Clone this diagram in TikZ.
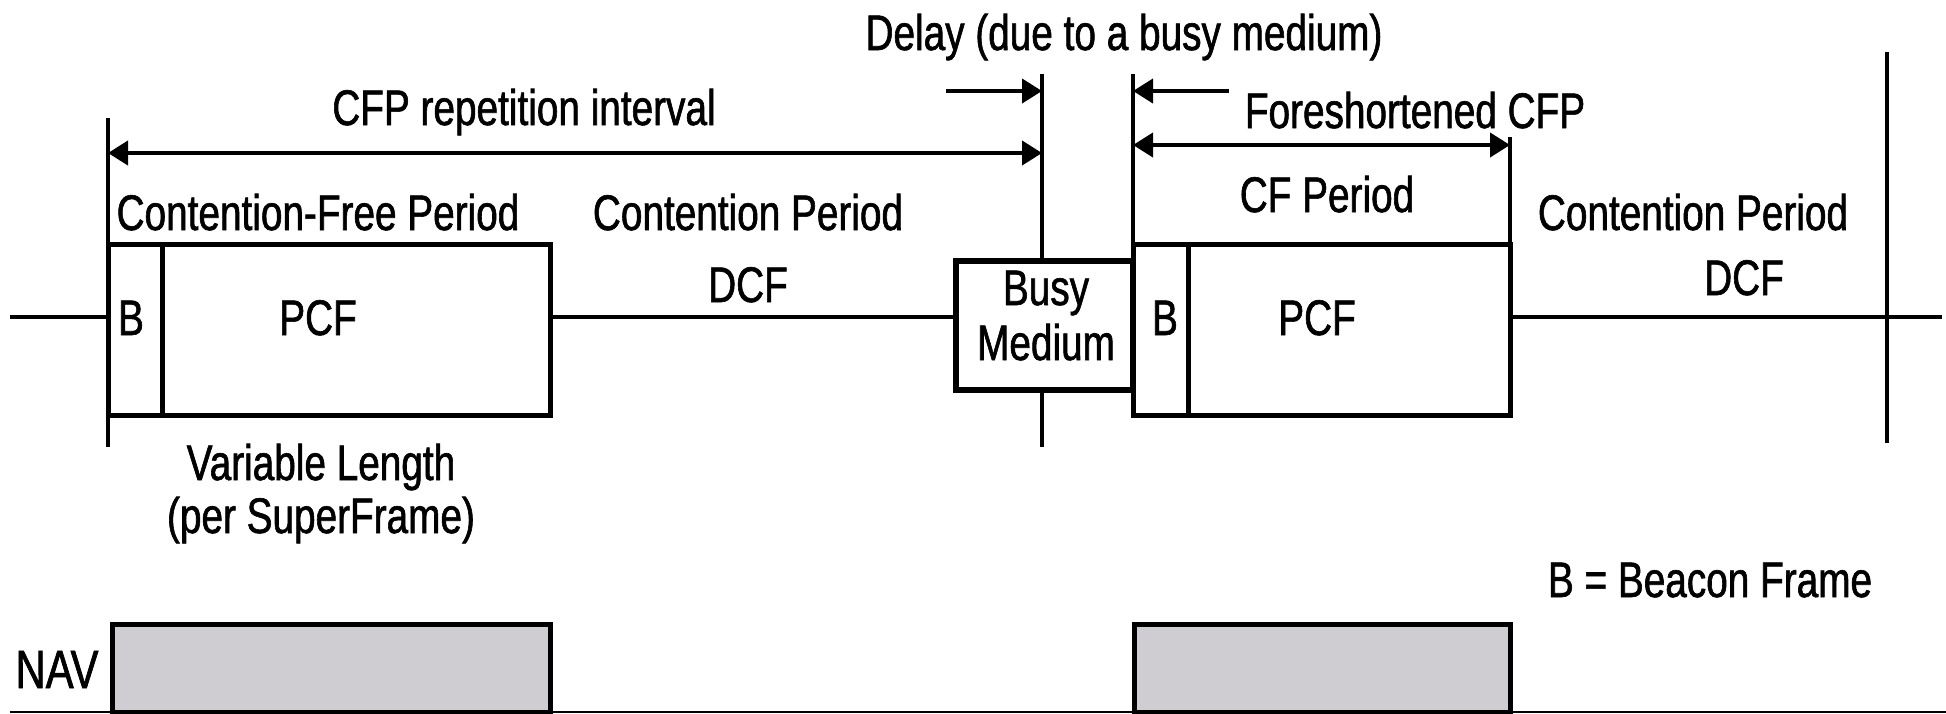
\documentclass[tikz,border=0pt]{standalone}
\usepackage{fontspec}
\setmainfont{Liberation Sans}[FakeStretch=0.775,FakeBold=1.2]
\usetikzlibrary{arrows.meta}
\definecolor{navgray}{RGB}{207,205,210}
\begin{document}
\begin{tikzpicture}[x=0.5pt,y=-0.5pt,
  lbl/.style={anchor=base, inner sep=0pt, font=\fontsize{25}{30}\selectfont},
  frame/.style={draw, line width=2.5pt, inner sep=0pt, fill=white, minimum height=85.5pt},
  rule/.style={line width=2pt},
  tip/.tip={Triangle[length=10pt,width=12pt]},
  dim/.style={line width=2pt, -tip},
  dimboth/.style={line width=2pt, tip-tip},
  navbox/.style={draw, line width=2.5pt, fill=navgray, inner sep=0pt, minimum height=44pt}
]
% canvas
\fill[white] (0,0) rectangle (1946,713);
\useasboundingbox (0,0) rectangle (1946,713);

% superframe boxes on the time line
\node[frame, minimum width=27pt]   (b1)   at (135,329.5)  {};
\node[frame, minimum width=194pt]  (pcf1) at (356,329.5)  {};
\node[frame, minimum width=88.5pt, minimum height=64.5pt, line width=3pt] (busy) at (1044.5,325.5) {};
\node[frame, minimum width=27.5pt] (b2)   at (1160.5,329.5) {};
\node[frame, minimum width=161pt]  (pcf2) at (1349,329.5) {};

% NAV boxes
\node[navbox, minimum width=219pt] (nav1) at (331,668) {};
\node[navbox, minimum width=188pt] (nav2) at (1322,668) {};

% time line
\coordinate (t0) at (10,317);
\coordinate (t1) at (1942,317);
\draw[rule] (t0) -- (t0 -| b1.west);
\draw[rule] (t0 -| pcf1.east) -- (t0 -| busy.west);
\draw[rule] (t0 -| pcf2.east) -- (t1);
\coordinate (n0) at (10,711.5);
\coordinate (n1) at (1946,711.5);
\draw[line width=1pt] (n0) -- (n1);

% boundary markers
\coordinate (v1t) at (108,118);
\coordinate (v1b) at (108,447);
\coordinate (v2t) at (1042,74);
\coordinate (v2b) at (1042,447);
\coordinate (v3t) at (1133,74);
\coordinate (v4t) at (1510,137);
\coordinate (v5t) at (1887,52);
\coordinate (v5b) at (1887,443);
\draw[rule] (v1t) -- (v1b);
\draw[rule] (v2t) -- (v2t |- busy.north);
\draw[rule] (v2b |- busy.south) -- (v2b);
\draw[rule] (v3t) -- (v3t |- b2.north);
\draw[rule] (v4t) -- (v4t |- pcf2.north);
\draw[rule] (v5t) -- (v5b);

% dimension arrows
\coordinate (cfpL) at (108,153);
\coordinate (cfpR) at (1042,153);
\draw[dimboth] (cfpL) -- (cfpR);
\coordinate (dL) at (946,91);
\coordinate (dR) at (1229,91);
\draw[dim] (dL) -- (dL -| v2t);
\draw[dim] (dR) -- (dR -| v3t);
\coordinate (fL) at (1133,145);
\coordinate (fR) at (1510,145);
\draw[dimboth] (fL) -- (fR);

% labels
\node[lbl] (delay)  at (1124,50)  {Delay (due to a busy medium)};
\node[lbl] (cfprep) at (524,125)  {CFP repetition interval};
\node[lbl] (fore)   at (1415,128) {Foreshortened CFP};
\node[lbl] (cfper)  at (1327,212) {CF Period};
\node[lbl] (cfree)  at (318,230)  {Contention-Free Period};
\node[lbl] (cp1)    at (748,230)  {Contention Period};
\node[lbl] (cp2)    at (1693,230) {Contention Period};
\node[lbl] (dcf1)   at (748,302)  {DCF};
\node[lbl] (dcf2)   at (1744,295) {DCF};
\node[lbl] (bA)     at (131,335)  {B};
\node[lbl] (pcfA)   at (318,335)  {PCF};
\node[lbl] (busyA)  at (1046,305) {Busy};
\node[lbl] (busyB)  at (1046,360) {Medium};
\node[lbl] (bB)     at (1165,335) {B};
\node[lbl] (pcfB)   at (1317,335) {PCF};
\node[lbl] (varA)   at (321,480)  {Variable Length};
\node[lbl] (varB)   at (321,533)  {(per SuperFrame)};
\node[lbl] (beacon) at (1710,597) {B = Beacon Frame};
\node[lbl, font=\fontsize{27}{32}\selectfont] (navl) at (57,688) {NAV};
\end{tikzpicture}
\end{document}
